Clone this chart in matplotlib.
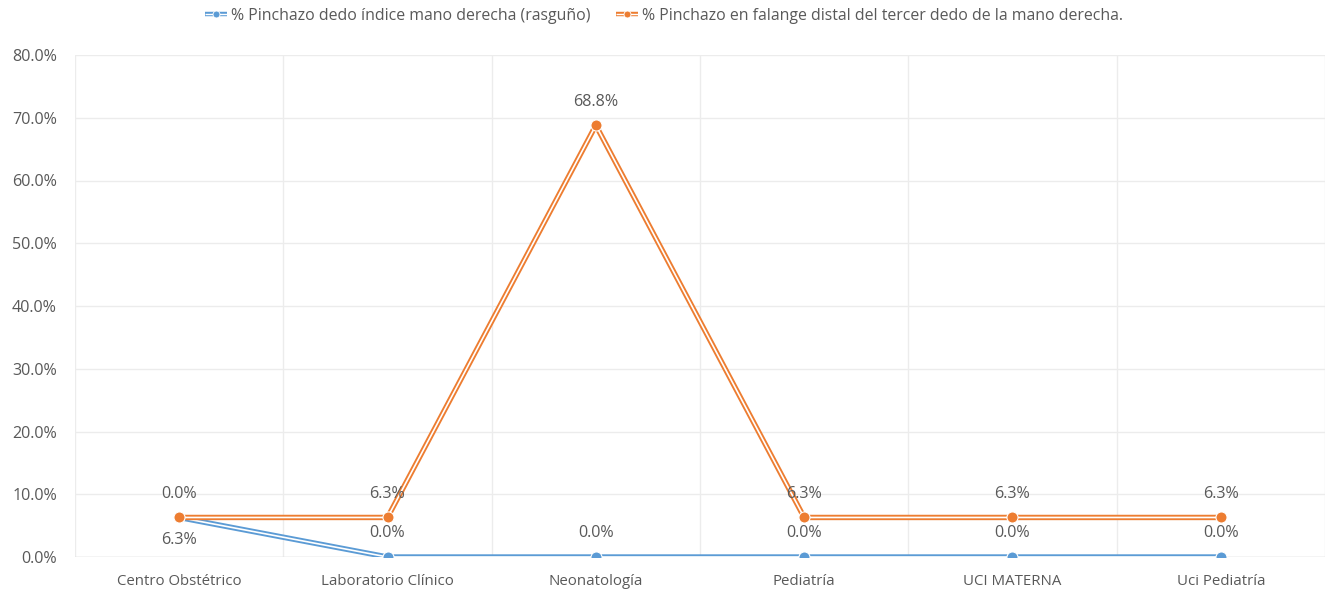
import numpy as np
import matplotlib
matplotlib.use("Agg")
import matplotlib.pyplot as plt
from matplotlib.lines import Line2D
from matplotlib.legend_handler import HandlerTuple

categories = ["Centro Obstétrico", "Laboratorio Clínico", "Neonatología",
              "Pediatría", "UCI MATERNA", "Uci Pediatría"]
series_names = ["% Pinchazo dedo índice mano derecha (rasguño)",
                "% Pinchazo en falange distal del tercer dedo de la mano derecha."]
indice = [6.3, 0.0, 0.0, 0.0, 0.0, 0.0]
falange = [0.0, 6.3, 68.8, 6.3, 6.3, 6.3]
y_ticks = [0, 10, 20, 30, 40, 50, 60, 70, 80]

BLUE = "#5B9BD5"
ORANGE = "#ED7D31"
TXT = "#595959"
GRID = "#ECECEC"

plt.rcParams["font.family"] = ["Open Sans", "DejaVu Sans"]

fig = plt.figure(figsize=(13.28, 6), dpi=100)
ax = fig.add_axes([75 / 1328, 43 / 600, 1250 / 1328, 502 / 600])

x = np.arange(len(categories))
blue_vals = np.array(indice)
orange_vals = blue_vals + np.array(falange)  # stacked line


def double_line(xs, ys, color, z):
    ax.plot(xs, ys, color=color, lw=3.9, solid_capstyle="butt", zorder=z)
    ax.plot(xs, ys, color="white", lw=1.2, solid_capstyle="butt", zorder=z + 0.1)
    ax.plot(xs, ys, ls="none", marker="o", ms=8, mfc=color, mec="white",
            mew=0.8, zorder=z + 0.2)


double_line(x, blue_vals, BLUE, 3)
double_line(x, orange_vals, ORANGE, 4)

# data labels
LBL = 11.6
for i in range(len(x)):
    ax.annotate(f"{falange[i]:.1f}%", (x[i], orange_vals[i]), xytext=(0, 17),
                textcoords="offset points", ha="center", va="center",
                fontsize=LBL, color=TXT, zorder=6)
    dy = -16 if blue_vals[i] > 0 else 17
    ax.annotate(f"{indice[i]:.1f}%", (x[i], blue_vals[i]), xytext=(0, dy),
                textcoords="offset points", ha="center", va="center",
                fontsize=LBL, color=TXT, zorder=6)

ax.set_xlim(-0.5, len(categories) - 0.5)
ax.set_ylim(0, 80)
ax.set_yticks(y_ticks)
ax.set_yticklabels([f"{v:.1f}%" for v in y_ticks])
ax.set_xticks(x)
ax.set_xticklabels(categories)
ax.tick_params(axis="both", length=0, labelcolor=TXT)
ax.tick_params(axis="y", pad=13, labelsize=11.6)
ax.tick_params(axis="x", pad=12, labelsize=10.8)

for v in y_ticks:
    ax.axhline(v, color=GRID, lw=1.0, zorder=1)
for b in np.arange(-0.5, len(categories), 1.0):
    ax.axvline(b, color=GRID, lw=1.0, zorder=1)
for s in ax.spines.values():
    s.set_visible(False)
ax.axhline(0, color="#D9D9D9", lw=1.0, zorder=1.5)


def legend_handle(color):
    return (Line2D([], [], color=color, lw=3.2, solid_capstyle="butt"),
            Line2D([], [], color="white", lw=1.0, solid_capstyle="butt"),
            Line2D([], [], ls="none", marker="o", ms=5, mfc=color, mec="white", mew=0.6))


fig.legend([legend_handle(BLUE), legend_handle(ORANGE)], series_names,
           handler_map={tuple: HandlerTuple(ndivide=1, pad=0)},
           loc="center", bbox_to_anchor=(0.5, 1 - 16 / 600), ncol=2, frameon=False,
           fontsize=11.4, labelcolor=TXT, handlelength=1.4, handletextpad=0.25,
           columnspacing=1.6)

fig.savefig("out.png", dpi=100, facecolor="white")
